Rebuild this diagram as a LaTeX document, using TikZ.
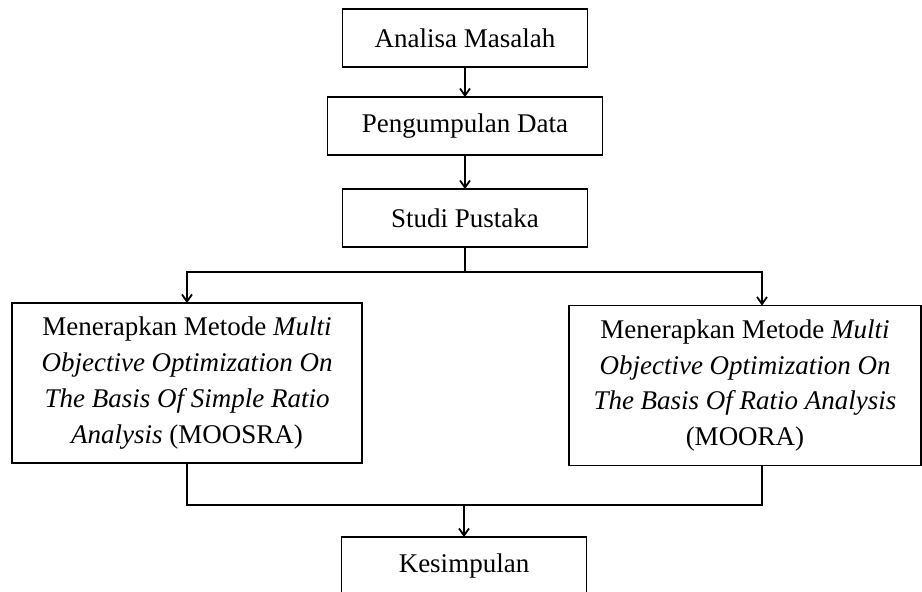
\documentclass[tikz,border=0pt]{standalone}
\usepackage{fontspec}
\setmainfont{Liberation Serif}
\usetikzlibrary{positioning,arrows.meta}

\begin{document}
\begin{tikzpicture}[
  x=0.5pt, y=-0.5pt,
  node distance=15pt,
  every node/.style={font=\fontsize{13.5}{17.9}\selectfont, align=center,
    inner sep=0pt, outer sep=0pt},
  kotak/.style={draw, line width=0.9pt,
    minimum width=122.5pt, minimum height=29pt},
  metode/.style={draw, line width=0.9pt,
    minimum width=175pt, minimum height=80pt},
  garis/.style={line width=0.9pt},
  arr/.style={garis, -{Straight Barb[length=3.5pt, width=5pt]}}]

  \useasboundingbox (0,0) rectangle (922,591);

  \node[kotak] (analisa) at (465,38) {Analisa Masalah};
  \node[kotak, minimum width=137.5pt, below=15pt of analisa] (data) {Pengumpulan Data};
  \node[kotak, below=17pt of data] (pustaka) {Studi Pustaka};

  \node[metode] (moosra) at (187,383)
    {Menerapkan Metode \textit{Multi}\\ \textit{Objective Optimization On}\\
     \textit{The Basis Of Simple Ratio}\\ \textit{Analysis} (MOOSRA)};
  \node[metode, minimum width=176pt] (moora) at (745,385.5)
    {Menerapkan Metode \textit{Multi}\\ \textit{Objective Optimization On}\\
     \textit{The Basis Of Ratio Analysis}\\ (MOORA)};

  \node[kotak] (simpulan) at (464,566) {Kesimpulan};

  \coordinate[below=12.5pt of pustaka] (cabang);
  \coordinate[above=16pt of simpulan] (gabung);
  \coordinate (masukMoora) at ([xshift=8.5pt]moora.north);
  \coordinate (keluarMoora) at ([xshift=8.5pt]moora.south);

  \draw[arr] (analisa) -- (data);
  \draw[arr] (data) -- (pustaka);
  \draw[garis] (pustaka) -- (cabang);
  \draw[arr] (cabang) -| (moosra);
  \draw[arr] (cabang) -| (masukMoora);
  \draw[garis] (moosra) |- (gabung);
  \draw[garis] (keluarMoora) |- (gabung);
  \draw[arr] (gabung) -- (simpulan);
\end{tikzpicture}
\end{document}
